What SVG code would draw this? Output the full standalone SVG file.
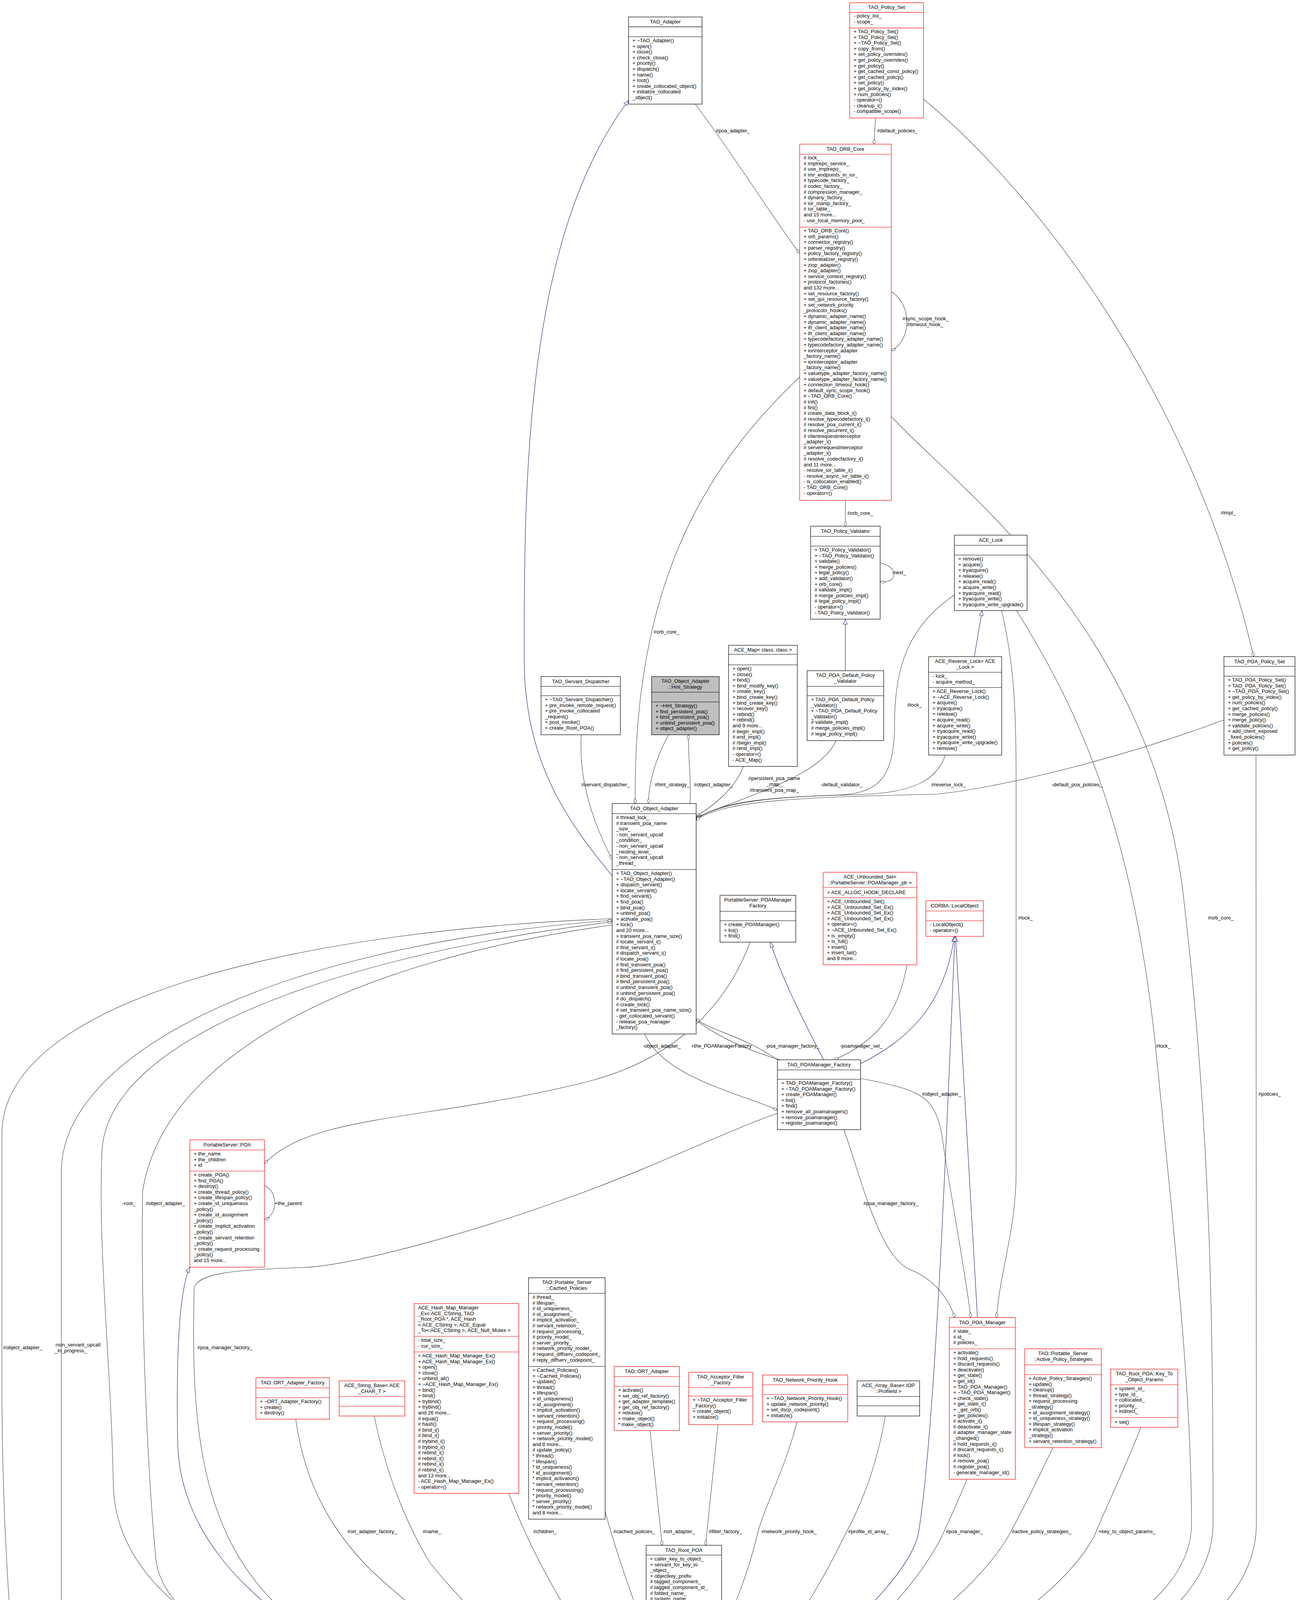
<svg xmlns="http://www.w3.org/2000/svg" width="3320" height="5179" viewBox="0 0 3320 5179">
<style>
text{font-family:"Liberation Sans",Arial,sans-serif;font-size:13px;fill:#000}
.c{text-anchor:middle}
.b{fill:#fff;stroke:#000;stroke-width:1.2}
.r{fill:#fff;stroke:#f00;stroke-width:1.2}
.g{fill:#bfbfbf;stroke:#000;stroke-width:1.2}
.sb{stroke:#000;stroke-width:1.2}
.sr{stroke:#f00;stroke-width:1.2}
.e{fill:none;stroke:#404040;stroke-width:1.1;marker-end:url(#dia)}
.n{fill:none;stroke:#191970;stroke-width:1.1;marker-end:url(#tri)}
</style>
<defs>
<marker id="dia" markerUnits="userSpaceOnUse" markerWidth="16" markerHeight="10" refX="14" refY="4" orient="auto"><path d="M1,4 L7.5,0.5 L14,4 L7.5,7.5 z" fill="#fff" stroke="#404040" stroke-width="1"/></marker>
<marker id="tri" markerUnits="userSpaceOnUse" markerWidth="16" markerHeight="12" refX="14" refY="6" orient="auto"><path d="M1,1 L14,6 L1,11 z" fill="#fff" stroke="#191970" stroke-width="1"/></marker>
</defs>
<rect width="3320" height="5179" fill="#fff"/>

<g id="connectors">
<path class="e" d="M1780,267 C1880,400 1980,560 2047,649"/>
<path class="e" d="M2241,303 L2237,369"/>
<path class="e" d="M2281,746 C2335,780 2335,870 2281,898"/>
<path class="e" d="M2364,254 C2650,490 3050,1000 3209,1681"/>
<path class="e" d="M2164,1281 L2164,1347"/>
<path class="e" d="M2253,1441 C2300,1450 2300,1495 2253,1489"/>
<path class="e" d="M1488,1881 C1480,2000 1520,2110 1567,2200"/>
<path class="e" d="M2047,965 C1800,1200 1620,1500 1626,2057"/>
<path class="e" d="M1711,1881 C1680,1940 1660,2000 1660,2057"/>
<path class="e" d="M1766,2057 C1770,2000 1762,1950 1762,1881"/>
<path class="e" d="M1903,1962 C1880,2020 1830,2060 1782,2090"/>
<path class="e" d="M2140,1896 C2100,1990 1900,2040 1782,2093"/>
<path class="e" d="M2443,1523 C2330,1600 2290,1700 2290,1850 C2290,1990 2250,2030 2150,2035 C2000,2040 1850,2050 1782,2096"/>
<path class="e" d="M2420,1933 C2400,1990 2350,2030 2200,2034 C2000,2040 1850,2045 1782,2098"/>
<path class="e" d="M3133,1843 C2900,1930 2600,2010 2400,2033 C2100,2040 1850,2045 1782,2100"/>
<path class="e" d="M1650,2647 C1700,2760 1900,2800 1990,2842"/>
<path class="e" d="M1920,2412 C1850,2600 1700,2720 1500,2770 C1100,2870 800,2850 677,2979"/>
<path class="e" d="M1990,2713 C1900,2650 1820,2640 1782,2608"/>
<path class="e" d="M2322,2470 C2300,2580 2260,2660 2135,2713"/>
<path class="e" d="M677,3035 C712,3050 712,3110 677,3122"/>
<path class="e" d="M1782,2612 C1900,2700 2050,2730 2200,2760 C2350,2790 2390,2800 2410,2900 C2440,3100 2470,3250 2485,3373"/>
<path class="e" d="M2160,2892 C2200,3000 2250,3220 2330,3250 C2400,3280 2430,3330 2444,3373"/>
<path class="e" d="M2564,1563 C2595,1700 2601,1800 2601,2000 L2601,3000 C2601,3150 2560,3250 2551,3373"/>
<path class="e" d="M2602,1563 C2750,1800 2900,2100 2960,2700 C3020,3300 3050,3600 3050,3900 C3050,4250 2200,4440 1847,4452"/>
<path class="e" d="M2281,1066 C2450,1250 2950,1600 3030,2300 C3100,2900 3105,3400 3105,3900 C3105,4300 2200,4455 1847,4462"/>
<path class="e" d="M3215,1933 L3216,3900 C3216,4350 2200,4470 1847,4470"/>
<path class="e" d="M2475,3787 C2450,3850 2430,3890 2410,3935 C2300,4150 2000,4380 1847,4410"/>
<path class="e" d="M2695,3706 C2650,3800 2610,3880 2580,3935 C2450,4150 2050,4390 1847,4424"/>
<path class="e" d="M2920,3654 C2880,3760 2830,3860 2800,3935 C2650,4200 2100,4420 1847,4442"/>
<path class="e" d="M2040,3640 C2010,3760 1955,3860 1938,3930 C1915,4030 1880,4110 1847,4185"/>
<path class="e" d="M2266,3625 C2240,3780 2190,3880 2160,3935 C2080,4100 1950,4300 1847,4357"/>
<path class="e" d="M1838,3647 L1806,3956"/>
<path class="e" d="M1664,3662 L1695,3956"/>
<path class="e" d="M1549,3870 C1580,3980 1620,4100 1654,4175"/>
<path class="e" d="M1302,3823 C1340,3920 1400,4050 1500,4200 C1560,4280 1620,4320 1654,4338"/>
<path class="e" d="M958,3625 C990,3780 1040,3900 1100,4000 C1300,4250 1550,4390 1654,4410"/>
<path class="e" d="M757,3633 C780,3800 850,3920 950,4020 C1250,4300 1550,4410 1654,4428"/>
<path class="e" d="M1654,4465 C1300,4440 300,4300 290,3800 C285,3500 250,3200 261,2950 C270,2650 900,2440 1567,2360"/>
<path class="e" d="M1567,2368 C900,2460 420,2700 365,3050 C360,3400 380,3800 400,4000 C450,4300 1300,4430 1654,4455"/>
<path class="e" d="M1567,2352 C800,2380 10,2550 5,2900 L5,3600 C10,4300 100,4800 131,5047"/>
<path class="e" d="M157,5051 L157,3000 C157,2700 700,2420 1567,2356"/>
<path class="e" d="M1990,2850 C1850,2900 1700,2975 1500,3050 C1200,3160 900,3240 774,3245 C600,3250 500,3260 497,3300 C490,3600 500,3900 700,4100 C1000,4350 1450,4360 1654,4345"/>
<path class="e" d="M1654,4517 L243,5073"/>
<path class="e" d="M242,5085 C272,5095 272,5125 242,5129"/>
<path class="n" d="M1567,2242 C1450,2100 1345,1950 1342,1700 C1340,1200 1350,600 1609,257"/>
<path class="n" d="M2164,1717 L2164,1585"/>
<path class="n" d="M2494,1681 L2514,1563"/>
<path class="n" d="M2108,2713 C2050,2600 2000,2500 1972,2412"/>
<path class="n" d="M2203,2723 C2350,2650 2420,2550 2443,2397"/>
<path class="n" d="M2502,3373 L2446,2397"/>
<path class="n" d="M1847,4405 C2100,4250 2320,4050 2350,3930 C2390,3700 2420,3000 2444,2397"/>
<path class="n" d="M1654,4459 C1000,4380 470,4100 455,3700 C450,3450 460,3300 486,3244"/>
<text x="1832" y="339">#poa_adapter_</text>
<text x="2245" y="339">#default_policies_</text>
<text x="2310" y="820">#sync_scope_hook_</text>
<text x="2322" y="835">#timeout_hook_</text>
<text x="3125" y="1317">#impl_</text>
<text x="2169" y="1318">#orb_core_</text>
<text x="2283" y="1470">-next_</text>
<text x="1673" y="1622">#orb_core_</text>
<text x="2322" y="1809">#lock_</text>
<text x="1488" y="2013">#servant_dispatcher_</text>
<text x="1676" y="2013">#hint_strategy_</text>
<text x="1776" y="2013">#object_adapter_</text>
<text class="c" x="1982" y="1997">#persistent_poa_name</text>
<text class="c" x="1982" y="2012">_map_</text>
<text class="c" x="1982" y="2027">#transient_poa_map_</text>
<text x="2101" y="2013">-default_validator_</text>
<text x="2384" y="2013">#reverse_lock_</text>
<text x="2692" y="2013">-default_poa_policies_</text>
<text x="2606" y="2354">#lock_</text>
<text x="3092" y="2354">#orb_core_</text>
<text x="1645" y="2682">-object_adapter_</text>
<text x="1769" y="2682">+the_POAManagerFactory</text>
<text x="1959" y="2682">-poa_manager_factory_</text>
<text x="2150" y="2682">-poamanager_set_</text>
<text x="2959" y="2682">#lock_</text>
<text x="2360" y="2805">#object_adapter_</text>
<text x="3221" y="2805">#policies_</text>
<text x="313" y="3085">-root_</text>
<text x="373" y="3085">#object_adapter_</text>
<text x="703" y="3085">+the_parent</text>
<text x="2210" y="3085">#poa_manager_factory_</text>
<text x="8" y="3454">#object_adapter_</text>
<text x="140" y="3447">-non_servant_upcall</text>
<text x="140" y="3462">_in_progress_</text>
<text x="505" y="3454">#poa_manager_factory_</text>
<text x="889" y="3925">#ort_adapter_factory_</text>
<text x="1082" y="3925">#name_</text>
<text x="1365" y="3925">#children_</text>
<text x="1570" y="3925">#cached_policies_</text>
<text x="1698" y="3925">#ort_adapter_</text>
<text x="1814" y="3925">#filter_factory_</text>
<text x="1949" y="3925">#network_priority_hook_</text>
<text x="2171" y="3925">#profile_id_array_</text>
<text x="2421" y="3925">#poa_manager_</text>
<text x="2590" y="3925">#active_policy_strategies_</text>
<text x="2812" y="3925">+key_to_object_params_</text>
<text x="393" y="5022">#poa_</text>
<text x="271" y="5114">#previous_</text>
</g>

<g id="TAO_Adapter">
<rect class="b" x="1609" y="43.5" width="188" height="223"/>
<line class="sb" x1="1609" y1="68.7" x2="1797" y2="68.7"/><line class="sb" x1="1609" y1="94" x2="1797" y2="94"/>
<text class="c" x="1703" y="60">TAO_Adapter</text>
<text x="1619" y="108"><tspan x="1619">+ ~TAO_Adapter()</tspan><tspan x="1619" dy="14.6">+ open()</tspan><tspan x="1619" dy="14.6">+ close()</tspan><tspan x="1619" dy="14.6">+ check_close()</tspan><tspan x="1619" dy="14.6">+ priority()</tspan><tspan x="1619" dy="14.6">+ dispatch()</tspan><tspan x="1619" dy="14.6">+ name()</tspan><tspan x="1619" dy="14.6">+ root()</tspan><tspan x="1619" dy="14.6">+ create_collocated_object()</tspan><tspan x="1619" dy="14.6">+ initialize_collocated</tspan><tspan x="1619" dy="14.6">_object()</tspan></text>
</g>

<g id="TAO_Policy_Set">
<rect class="r" x="2175" y="7" width="189" height="295"/>
<line class="sr" x1="2175" y1="31.6" x2="2364" y2="31.6"/><line class="sr" x1="2175" y1="71.6" x2="2364" y2="71.6"/>
<text class="c" x="2269.5" y="23">TAO_Policy_Set</text>
<text x="2185" y="45"><tspan x="2185">- policy_list_</tspan><tspan x="2185" dy="14.6">- scope_</tspan></text>
<text x="2185" y="85"><tspan x="2185">+ TAO_Policy_Set()</tspan><tspan x="2185" dy="14.6">+ TAO_Policy_Set()</tspan><tspan x="2185" dy="14.6">+ ~TAO_Policy_Set()</tspan><tspan x="2185" dy="14.6">+ copy_from()</tspan><tspan x="2185" dy="14.6">+ set_policy_overrides()</tspan><tspan x="2185" dy="14.6">+ get_policy_overrides()</tspan><tspan x="2185" dy="14.6">+ get_policy()</tspan><tspan x="2185" dy="14.6">+ get_cached_const_policy()</tspan><tspan x="2185" dy="14.6">+ get_cached_policy()</tspan><tspan x="2185" dy="14.6">+ set_policy()</tspan><tspan x="2185" dy="14.6">+ get_policy_by_index()</tspan><tspan x="2185" dy="14.6">+ num_policies()</tspan><tspan x="2185" dy="14.6">- operator=()</tspan><tspan x="2185" dy="14.6">- cleanup_i()</tspan><tspan x="2185" dy="14.6">- compatible_scope()</tspan></text>
</g>

<g id="TAO_ORB_Core">
<rect class="r" x="2047" y="369" width="234.5" height="912"/>
<line class="sr" x1="2047" y1="395" x2="2281.5" y2="395"/><line class="sr" x1="2047" y1="581.5" x2="2281.5" y2="581.5"/>
<text class="c" x="2164" y="386">TAO_ORB_Core</text>
<text x="2057" y="408"><tspan x="2057"># lock_</tspan><tspan x="2057" dy="14.6"># implrepo_service_</tspan><tspan x="2057" dy="14.6"># use_implrepo_</tspan><tspan x="2057" dy="14.6"># imr_endpoints_in_ior_</tspan><tspan x="2057" dy="14.6"># typecode_factory_</tspan><tspan x="2057" dy="14.6"># codec_factory_</tspan><tspan x="2057" dy="14.6"># compression_manager_</tspan><tspan x="2057" dy="14.6"># dynany_factory_</tspan><tspan x="2057" dy="14.6"># ior_manip_factory_</tspan><tspan x="2057" dy="14.6"># ior_table_</tspan><tspan x="2057" dy="14.6">and 15 more...</tspan><tspan x="2057" dy="14.6">- use_local_memory_pool_</tspan></text>
<text x="2057" y="595"><tspan x="2057">+ TAO_ORB_Core()</tspan><tspan x="2057" dy="14.6">+ orb_params()</tspan><tspan x="2057" dy="14.6">+ connector_registry()</tspan><tspan x="2057" dy="14.6">+ parser_registry()</tspan><tspan x="2057" dy="14.6">+ policy_factory_registry()</tspan><tspan x="2057" dy="14.6">+ orbinitializer_registry()</tspan><tspan x="2057" dy="14.6">+ ziop_adapter()</tspan><tspan x="2057" dy="14.6">+ ziop_adapter()</tspan><tspan x="2057" dy="14.6">+ service_context_registry()</tspan><tspan x="2057" dy="14.6">+ protocol_factories()</tspan><tspan x="2057" dy="14.6">and 132 more...</tspan><tspan x="2057" dy="14.6">+ set_resource_factory()</tspan><tspan x="2057" dy="14.6">+ set_gui_resource_factory()</tspan><tspan x="2057" dy="14.6">+ set_network_priority</tspan><tspan x="2057" dy="14.6">_protocols_hooks()</tspan><tspan x="2057" dy="14.6">+ dynamic_adapter_name()</tspan><tspan x="2057" dy="14.6">+ dynamic_adapter_name()</tspan><tspan x="2057" dy="14.6">+ ifr_client_adapter_name()</tspan><tspan x="2057" dy="14.6">+ ifr_client_adapter_name()</tspan><tspan x="2057" dy="14.6">+ typecodefactory_adapter_name()</tspan><tspan x="2057" dy="14.6">+ typecodefactory_adapter_name()</tspan><tspan x="2057" dy="14.6">+ iorinterceptor_adapter</tspan><tspan x="2057" dy="14.6">_factory_name()</tspan><tspan x="2057" dy="14.6">+ iorinterceptor_adapter</tspan><tspan x="2057" dy="14.6">_factory_name()</tspan><tspan x="2057" dy="14.6">+ valuetype_adapter_factory_name()</tspan><tspan x="2057" dy="14.6">+ valuetype_adapter_factory_name()</tspan><tspan x="2057" dy="14.6">+ connection_timeout_hook()</tspan><tspan x="2057" dy="14.6">+ default_sync_scope_hook()</tspan><tspan x="2057" dy="14.6"># ~TAO_ORB_Core()</tspan><tspan x="2057" dy="14.6"># init()</tspan><tspan x="2057" dy="14.6"># fini()</tspan><tspan x="2057" dy="14.6"># create_data_block_i()</tspan><tspan x="2057" dy="14.6"># resolve_typecodefactory_i()</tspan><tspan x="2057" dy="14.6"># resolve_poa_current_i()</tspan><tspan x="2057" dy="14.6"># resolve_picurrent_i()</tspan><tspan x="2057" dy="14.6"># clientrequestinterceptor</tspan><tspan x="2057" dy="14.6">_adapter_i()</tspan><tspan x="2057" dy="14.6"># serverrequestinterceptor</tspan><tspan x="2057" dy="14.6">_adapter_i()</tspan><tspan x="2057" dy="14.6"># resolve_codecfactory_i()</tspan><tspan x="2057" dy="14.6">and 11 more...</tspan><tspan x="2057" dy="14.6">- resolve_ior_table_i()</tspan><tspan x="2057" dy="14.6">- resolve_async_ior_table_i()</tspan><tspan x="2057" dy="14.6">- is_collocation_enabled()</tspan><tspan x="2057" dy="14.6">- TAO_ORB_Core()</tspan><tspan x="2057" dy="14.6">- operator=()</tspan></text>
</g>

<g id="TAO_Policy_Validator">
<rect class="b" x="2075" y="1347" width="178" height="238"/>
<line class="sb" x1="2075" y1="1373" x2="2253" y2="1373"/><line class="sb" x1="2075" y1="1398" x2="2253" y2="1398"/>
<text class="c" x="2164" y="1364">TAO_Policy_Validator</text>
<text x="2085" y="1412"><tspan x="2085">+ TAO_Policy_Validator()</tspan><tspan x="2085" dy="14.6">+ ~TAO_Policy_Validator()</tspan><tspan x="2085" dy="14.6">+ validate()</tspan><tspan x="2085" dy="14.6">+ merge_policies()</tspan><tspan x="2085" dy="14.6">+ legal_policy()</tspan><tspan x="2085" dy="14.6">+ add_validator()</tspan><tspan x="2085" dy="14.6">+ orb_core()</tspan><tspan x="2085" dy="14.6"># validate_impl()</tspan><tspan x="2085" dy="14.6"># merge_policies_impl()</tspan><tspan x="2085" dy="14.6"># legal_policy_impl()</tspan><tspan x="2085" dy="14.6">- operator=()</tspan><tspan x="2085" dy="14.6">- TAO_Policy_Validator()</tspan></text>
</g>

<g id="TAO_POA_Default_Policy_Validator">
<rect class="b" x="2066" y="1717" width="196" height="179"/>
<line class="sb" x1="2066" y1="1757" x2="2262" y2="1757"/><line class="sb" x1="2066" y1="1781" x2="2262" y2="1781"/>
<text class="c" x="2164" y="1733"><tspan x="2164">TAO_POA_Default_Policy</tspan><tspan x="2164" dy="14.6">_Validator</tspan></text>
<text x="2076" y="1795"><tspan x="2076">+ TAO_POA_Default_Policy</tspan><tspan x="2076" dy="14.6">_Validator()</tspan><tspan x="2076" dy="14.6">+ ~TAO_POA_Default_Policy</tspan><tspan x="2076" dy="14.6">_Validator()</tspan><tspan x="2076" dy="14.6"># validate_impl()</tspan><tspan x="2076" dy="14.6"># merge_policies_impl()</tspan><tspan x="2076" dy="14.6"># legal_policy_impl()</tspan></text>
</g>

<g id="ACE_Map">
<rect class="b" x="1865" y="1652" width="176" height="310"/>
<line class="sb" x1="1865" y1="1675" x2="2041" y2="1675"/><line class="sb" x1="1865" y1="1702" x2="2041" y2="1702"/>
<text class="c" x="1953" y="1668">ACE_Map&lt; class, class &gt;</text>
<text x="1875" y="1716"><tspan x="1875">+ open()</tspan><tspan x="1875" dy="14.6">+ close()</tspan><tspan x="1875" dy="14.6">+ bind()</tspan><tspan x="1875" dy="14.6">+ bind_modify_key()</tspan><tspan x="1875" dy="14.6">+ create_key()</tspan><tspan x="1875" dy="14.6">+ bind_create_key()</tspan><tspan x="1875" dy="14.6">+ bind_create_key()</tspan><tspan x="1875" dy="14.6">+ recover_key()</tspan><tspan x="1875" dy="14.6">+ rebind()</tspan><tspan x="1875" dy="14.6">+ rebind()</tspan><tspan x="1875" dy="14.6">and 9 more...</tspan><tspan x="1875" dy="14.6"># begin_impl()</tspan><tspan x="1875" dy="14.6"># end_impl()</tspan><tspan x="1875" dy="14.6"># rbegin_impl()</tspan><tspan x="1875" dy="14.6"># rend_impl()</tspan><tspan x="1875" dy="14.6">- operator=()</tspan><tspan x="1875" dy="14.6">- ACE_Map()</tspan></text>
</g>

<g id="Hint_Strategy">
<rect class="g" x="1668" y="1732" width="173" height="149"/>
<line class="sb" x1="1668" y1="1772" x2="1841" y2="1772"/><line class="sb" x1="1668" y1="1797" x2="1841" y2="1797"/>
<text class="c" x="1754.5" y="1748"><tspan x="1754.5">TAO_Object_Adapter</tspan><tspan x="1754.5" dy="14.6">::Hint_Strategy</tspan></text>
<text x="1678" y="1811"><tspan x="1678">+ ~Hint_Strategy()</tspan><tspan x="1678" dy="14.6">+ find_persistent_poa()</tspan><tspan x="1678" dy="14.6">+ bind_persistent_poa()</tspan><tspan x="1678" dy="14.6">+ unbind_persistent_poa()</tspan><tspan x="1678" dy="14.6">+ object_adapter()</tspan></text>
</g>

<g id="TAO_Servant_Dispatcher">
<rect class="b" x="1385" y="1732" width="203" height="149"/>
<line class="sb" x1="1385" y1="1757" x2="1588" y2="1757"/><line class="sb" x1="1385" y1="1781" x2="1588" y2="1781"/>
<text class="c" x="1486.5" y="1749">TAO_Servant_Dispatcher</text>
<text x="1395" y="1795"><tspan x="1395">+ ~TAO_Servant_Dispatcher()</tspan><tspan x="1395" dy="14.6">+ pre_invoke_remote_request()</tspan><tspan x="1395" dy="14.6">+ pre_invoke_collocated</tspan><tspan x="1395" dy="14.6">_request()</tspan><tspan x="1395" dy="14.6">+ post_invoke()</tspan><tspan x="1395" dy="14.6">+ create_Root_POA()</tspan></text>
</g>

<g id="TAO_Object_Adapter">
<rect class="b" x="1567" y="2057" width="215" height="590"/>
<line class="sb" x1="1567" y1="2083" x2="1782" y2="2083"/><line class="sb" x1="1567" y1="2226" x2="1782" y2="2226"/>
<text class="c" x="1674.5" y="2074">TAO_Object_Adapter</text>
<text x="1577" y="2097"><tspan x="1577"># thread_lock_</tspan><tspan x="1577" dy="14.6"># transient_poa_name</tspan><tspan x="1577" dy="14.6">_size_</tspan><tspan x="1577" dy="14.6">- non_servant_upcall</tspan><tspan x="1577" dy="14.6">_condition_</tspan><tspan x="1577" dy="14.6">- non_servant_upcall</tspan><tspan x="1577" dy="14.6">_nesting_level_</tspan><tspan x="1577" dy="14.6">- non_servant_upcall</tspan><tspan x="1577" dy="14.6">_thread_</tspan></text>
<text x="1577" y="2240"><tspan x="1577">+ TAO_Object_Adapter()</tspan><tspan x="1577" dy="14.6">+ ~TAO_Object_Adapter()</tspan><tspan x="1577" dy="14.6">+ dispatch_servant()</tspan><tspan x="1577" dy="14.6">+ locate_servant()</tspan><tspan x="1577" dy="14.6">+ find_servant()</tspan><tspan x="1577" dy="14.6">+ find_poa()</tspan><tspan x="1577" dy="14.6">+ bind_poa()</tspan><tspan x="1577" dy="14.6">+ unbind_poa()</tspan><tspan x="1577" dy="14.6">+ activate_poa()</tspan><tspan x="1577" dy="14.6">+ lock()</tspan><tspan x="1577" dy="14.6">and 20 more...</tspan><tspan x="1577" dy="14.6">+ transient_poa_name_size()</tspan><tspan x="1577" dy="14.6"># locate_servant_i()</tspan><tspan x="1577" dy="14.6"># find_servant_i()</tspan><tspan x="1577" dy="14.6"># dispatch_servant_i()</tspan><tspan x="1577" dy="14.6"># locate_poa()</tspan><tspan x="1577" dy="14.6"># find_transient_poa()</tspan><tspan x="1577" dy="14.6"># find_persistent_poa()</tspan><tspan x="1577" dy="14.6"># bind_transient_poa()</tspan><tspan x="1577" dy="14.6"># bind_persistent_poa()</tspan><tspan x="1577" dy="14.6"># unbind_transient_poa()</tspan><tspan x="1577" dy="14.6"># unbind_persistent_poa()</tspan><tspan x="1577" dy="14.6"># do_dispatch()</tspan><tspan x="1577" dy="14.6"># create_lock()</tspan><tspan x="1577" dy="14.6"># set_transient_poa_name_size()</tspan><tspan x="1577" dy="14.6">- get_collocated_servant()</tspan><tspan x="1577" dy="14.6">- release_poa_manager</tspan><tspan x="1577" dy="14.6">_factory()</tspan></text>
</g>

<g id="ACE_Lock">
<rect class="b" x="2443" y="1370" width="186" height="193"/>
<line class="sb" x1="2443" y1="1396" x2="2629" y2="1396"/><line class="sb" x1="2443" y1="1421" x2="2629" y2="1421"/>
<text class="c" x="2536" y="1387">ACE_Lock</text>
<text x="2453" y="1435"><tspan x="2453">+ remove()</tspan><tspan x="2453" dy="14.6">+ acquire()</tspan><tspan x="2453" dy="14.6">+ tryacquire()</tspan><tspan x="2453" dy="14.6">+ release()</tspan><tspan x="2453" dy="14.6">+ acquire_read()</tspan><tspan x="2453" dy="14.6">+ acquire_write()</tspan><tspan x="2453" dy="14.6">+ tryacquire_read()</tspan><tspan x="2453" dy="14.6">+ tryacquire_write()</tspan><tspan x="2453" dy="14.6">+ tryacquire_write_upgrade()</tspan></text>
</g>

<g id="ACE_Reverse_Lock">
<rect class="b" x="2377" y="1681" width="187" height="252"/>
<line class="sb" x1="2377" y1="1721" x2="2564" y2="1721"/><line class="sb" x1="2377" y1="1760" x2="2564" y2="1760"/>
<text class="c" x="2470.5" y="1697"><tspan x="2470.5">ACE_Reverse_Lock&lt; ACE</tspan><tspan x="2470.5" dy="14.6">_Lock &gt;</tspan></text>
<text x="2387" y="1735"><tspan x="2387">- lock_</tspan><tspan x="2387" dy="14.6">- acquire_method_</tspan></text>
<text x="2387" y="1774"><tspan x="2387">+ ACE_Reverse_Lock()</tspan><tspan x="2387" dy="14.6">+ ~ACE_Reverse_Lock()</tspan><tspan x="2387" dy="14.6">+ acquire()</tspan><tspan x="2387" dy="14.6">+ tryacquire()</tspan><tspan x="2387" dy="14.6">+ release()</tspan><tspan x="2387" dy="14.6">+ acquire_read()</tspan><tspan x="2387" dy="14.6">+ acquire_write()</tspan><tspan x="2387" dy="14.6">+ tryacquire_read()</tspan><tspan x="2387" dy="14.6">+ tryacquire_write()</tspan><tspan x="2387" dy="14.6">+ tryacquire_write_upgrade()</tspan><tspan x="2387" dy="14.6">+ remove()</tspan></text>
</g>

<g id="TAO_POA_Policy_Set">
<rect class="b" x="3133" y="1681" width="182" height="252"/>
<line class="sb" x1="3133" y1="1706" x2="3315" y2="1706"/><line class="sb" x1="3133" y1="1731" x2="3315" y2="1731"/>
<text class="c" x="3224" y="1698">TAO_POA_Policy_Set</text>
<text x="3143" y="1745"><tspan x="3143">+ TAO_POA_Policy_Set()</tspan><tspan x="3143" dy="14.6">+ TAO_POA_Policy_Set()</tspan><tspan x="3143" dy="14.6">+ ~TAO_POA_Policy_Set()</tspan><tspan x="3143" dy="14.6">+ get_policy_by_index()</tspan><tspan x="3143" dy="14.6">+ num_policies()</tspan><tspan x="3143" dy="14.6">+ get_cached_policy()</tspan><tspan x="3143" dy="14.6">+ merge_policies()</tspan><tspan x="3143" dy="14.6">+ merge_policy()</tspan><tspan x="3143" dy="14.6">+ validate_policies()</tspan><tspan x="3143" dy="14.6">+ add_client_exposed</tspan><tspan x="3143" dy="14.6">_fixed_policies()</tspan><tspan x="3143" dy="14.6">+ policies()</tspan><tspan x="3143" dy="14.6">+ get_policy()</tspan></text>
</g>

<g id="POAManagerFactory">
<rect class="b" x="1843" y="2292" width="194" height="120"/>
<line class="sb" x1="1843" y1="2333" x2="2037" y2="2333"/><line class="sb" x1="1843" y1="2357" x2="2037" y2="2357"/>
<text class="c" x="1940" y="2308"><tspan x="1940">PortableServer::POAManager</tspan><tspan x="1940" dy="14.6">Factory</tspan></text>
<text x="1853" y="2371"><tspan x="1853">+ create_POAManager()</tspan><tspan x="1853" dy="14.6">+ list()</tspan><tspan x="1853" dy="14.6">+ find()</tspan></text>
</g>

<g id="ACE_Unbounded_Set">
<rect class="r" x="2107" y="2233" width="240" height="237"/>
<line class="sr" x1="2107" y1="2272" x2="2347" y2="2272"/><line class="sr" x1="2107" y1="2298" x2="2347" y2="2298"/>
<text class="c" x="2227" y="2249"><tspan x="2227">ACE_Unbounded_Set&lt;</tspan><tspan x="2227" dy="14.6">::PortableServer::POAManager_ptr &gt;</tspan></text>
<text x="2117" y="2289">+ ACE_ALLOC_HOOK_DECLARE</text>
<text x="2117" y="2312"><tspan x="2117">+ ACE_Unbounded_Set()</tspan><tspan x="2117" dy="14.6">+ ACE_Unbounded_Set_Ex()</tspan><tspan x="2117" dy="14.6">+ ACE_Unbounded_Set_Ex()</tspan><tspan x="2117" dy="14.6">+ ACE_Unbounded_Set_Ex()</tspan><tspan x="2117" dy="14.6">+ operator=()</tspan><tspan x="2117" dy="14.6">+ ~ACE_Unbounded_Set_Ex()</tspan><tspan x="2117" dy="14.6">+ is_empty()</tspan><tspan x="2117" dy="14.6">+ is_full()</tspan><tspan x="2117" dy="14.6">+ insert()</tspan><tspan x="2117" dy="14.6">+ insert_tail()</tspan><tspan x="2117" dy="14.6">and 9 more...</tspan></text>
</g>

<g id="CORBA_LocalObject">
<rect class="r" x="2370" y="2306" width="147" height="91"/>
<line class="sr" x1="2370" y1="2332" x2="2517" y2="2332"/><line class="sr" x1="2370" y1="2357" x2="2517" y2="2357"/>
<text class="c" x="2443.5" y="2323">CORBA::LocalObject</text>
<text x="2380" y="2371"><tspan x="2380">- LocalObject()</tspan><tspan x="2380" dy="14.6">- operator=()</tspan></text>
</g>

<g id="TAO_POAManager_Factory">
<rect class="b" x="1990" y="2713" width="213" height="179"/>
<line class="sb" x1="1990" y1="2739" x2="2203" y2="2739"/><line class="sb" x1="1990" y1="2763" x2="2203" y2="2763"/>
<text class="c" x="2096.5" y="2730">TAO_POAManager_Factory</text>
<text x="2000" y="2777"><tspan x="2000">+ TAO_POAManager_Factory()</tspan><tspan x="2000" dy="14.6">+ ~TAO_POAManager_Factory()</tspan><tspan x="2000" dy="14.6">+ create_POAManager()</tspan><tspan x="2000" dy="14.6">+ list()</tspan><tspan x="2000" dy="14.6">+ find()</tspan><tspan x="2000" dy="14.6">+ remove_all_poamanagers()</tspan><tspan x="2000" dy="14.6">+ remove_poamanager()</tspan><tspan x="2000" dy="14.6">+ register_poamanager()</tspan></text>
</g>

<g id="PortableServer_POA">
<rect class="r" x="486" y="2918" width="191" height="326"/>
<line class="sr" x1="486" y1="2944" x2="677" y2="2944"/><line class="sr" x1="486" y1="2998" x2="677" y2="2998"/>
<text class="c" x="581.5" y="2935">PortableServer::POA</text>
<text x="496" y="2958"><tspan x="496">+ the_name</tspan><tspan x="496" dy="14.6">+ the_children</tspan><tspan x="496" dy="14.6">+ id</tspan></text>
<text x="496" y="3012"><tspan x="496">+ create_POA()</tspan><tspan x="496" dy="14.6">+ find_POA()</tspan><tspan x="496" dy="14.6">+ destroy()</tspan><tspan x="496" dy="14.6">+ create_thread_policy()</tspan><tspan x="496" dy="14.6">+ create_lifespan_policy()</tspan><tspan x="496" dy="14.6">+ create_id_uniqueness</tspan><tspan x="496" dy="14.6">_policy()</tspan><tspan x="496" dy="14.6">+ create_id_assignment</tspan><tspan x="496" dy="14.6">_policy()</tspan><tspan x="496" dy="14.6">+ create_implicit_activation</tspan><tspan x="496" dy="14.6">_policy()</tspan><tspan x="496" dy="14.6">+ create_servant_retention</tspan><tspan x="496" dy="14.6">_policy()</tspan><tspan x="496" dy="14.6">+ create_request_processing</tspan><tspan x="496" dy="14.6">_policy()</tspan><tspan x="496" dy="14.6">and 15 more...</tspan></text>
</g>

<g id="ORT_Adapter_Factory">
<rect class="r" x="655" y="3527" width="188" height="106"/>
<line class="sr" x1="655" y1="3553" x2="843" y2="3553"/><line class="sr" x1="655" y1="3578" x2="843" y2="3578"/>
<text class="c" x="749" y="3544">TAO::ORT_Adapter_Factory</text>
<text x="665" y="3592"><tspan x="665">+ ~ORT_Adapter_Factory()</tspan><tspan x="665" dy="14.6">+ create()</tspan><tspan x="665" dy="14.6">+ destroy()</tspan></text>
</g>

<g id="ACE_String_Base">
<rect class="r" x="868" y="3535" width="168" height="90"/>
<line class="sr" x1="868" y1="3575" x2="1036" y2="3575"/><line class="sr" x1="868" y1="3600" x2="1036" y2="3600"/>
<text class="c" x="952" y="3551"><tspan x="952">ACE_String_Base&lt; ACE</tspan><tspan x="952" dy="14.6">_CHAR_T &gt;</tspan></text>
</g>

<g id="ACE_Hash_Map_Manager_Ex">
<rect class="r" x="1060" y="3337" width="268" height="486"/>
<line class="sr" x1="1060" y1="3421" x2="1328" y2="3421"/><line class="sr" x1="1060" y1="3461" x2="1328" y2="3461"/>
<text x="1070" y="3352"><tspan x="1070">ACE_Hash_Map_Manager</tspan><tspan x="1070" dy="14.6">_Ex&lt; ACE_CString, TAO</tspan><tspan x="1070" dy="14.6">_Root_POA *, ACE_Hash</tspan><tspan x="1070" dy="14.6">&lt; ACE_CString &gt;, ACE_Equal</tspan><tspan x="1070" dy="14.6">_To&lt; ACE_CString &gt;, ACE_Null_Mutex &gt;</tspan></text>
<text x="1070" y="3435"><tspan x="1070">- total_size_</tspan><tspan x="1070" dy="14.6">- cur_size_</tspan></text>
<text x="1070" y="3475"><tspan x="1070">+ ACE_Hash_Map_Manager_Ex()</tspan><tspan x="1070" dy="14.6">+ ACE_Hash_Map_Manager_Ex()</tspan><tspan x="1070" dy="14.6">+ open()</tspan><tspan x="1070" dy="14.6">+ close()</tspan><tspan x="1070" dy="14.6">+ unbind_all()</tspan><tspan x="1070" dy="14.6">+ ~ACE_Hash_Map_Manager_Ex()</tspan><tspan x="1070" dy="14.6">+ bind()</tspan><tspan x="1070" dy="14.6">+ bind()</tspan><tspan x="1070" dy="14.6">+ trybind()</tspan><tspan x="1070" dy="14.6">+ trybind()</tspan><tspan x="1070" dy="14.6">and 26 more...</tspan><tspan x="1070" dy="14.6"># equal()</tspan><tspan x="1070" dy="14.6"># hash()</tspan><tspan x="1070" dy="14.6"># bind_i()</tspan><tspan x="1070" dy="14.6"># bind_i()</tspan><tspan x="1070" dy="14.6"># trybind_i()</tspan><tspan x="1070" dy="14.6"># trybind_i()</tspan><tspan x="1070" dy="14.6"># rebind_i()</tspan><tspan x="1070" dy="14.6"># rebind_i()</tspan><tspan x="1070" dy="14.6"># rebind_i()</tspan><tspan x="1070" dy="14.6"># rebind_i()</tspan><tspan x="1070" dy="14.6">and 13 more...</tspan><tspan x="1070" dy="14.6">- ACE_Hash_Map_Manager_Ex()</tspan><tspan x="1070" dy="14.6">- operator=()</tspan></text>
</g>

<g id="Cached_Policies">
<rect class="b" x="1353" y="3271" width="196" height="618"/>
<line class="sb" x1="1353" y1="3311" x2="1549" y2="3311"/><line class="sb" x1="1353" y1="3498" x2="1549" y2="3498"/>
<text class="c" x="1451" y="3287"><tspan x="1451">TAO::Portable_Server</tspan><tspan x="1451" dy="14.6">::Cached_Policies</tspan></text>
<text x="1363" y="3325"><tspan x="1363"># thread_</tspan><tspan x="1363" dy="14.6"># lifespan_</tspan><tspan x="1363" dy="14.6"># id_uniqueness_</tspan><tspan x="1363" dy="14.6"># id_assignment_</tspan><tspan x="1363" dy="14.6"># implicit_activation_</tspan><tspan x="1363" dy="14.6"># servant_retention_</tspan><tspan x="1363" dy="14.6"># request_processing_</tspan><tspan x="1363" dy="14.6"># priority_model_</tspan><tspan x="1363" dy="14.6"># server_priority_</tspan><tspan x="1363" dy="14.6"># network_priority_model_</tspan><tspan x="1363" dy="14.6"># request_diffserv_codepoint_</tspan><tspan x="1363" dy="14.6"># reply_diffserv_codepoint_</tspan></text>
<text x="1363" y="3512"><tspan x="1363">+ Cached_Policies()</tspan><tspan x="1363" dy="14.6">+ ~Cached_Policies()</tspan><tspan x="1363" dy="14.6">+ update()</tspan><tspan x="1363" dy="14.6">+ thread()</tspan><tspan x="1363" dy="14.6">+ lifespan()</tspan><tspan x="1363" dy="14.6">+ id_uniqueness()</tspan><tspan x="1363" dy="14.6">+ id_assignment()</tspan><tspan x="1363" dy="14.6">+ implicit_activation()</tspan><tspan x="1363" dy="14.6">+ servant_retention()</tspan><tspan x="1363" dy="14.6">+ request_processing()</tspan><tspan x="1363" dy="14.6">+ priority_model()</tspan><tspan x="1363" dy="14.6">+ server_priority()</tspan><tspan x="1363" dy="14.6">+ network_priority_model()</tspan><tspan x="1363" dy="14.6">and 8 more...</tspan><tspan x="1363" dy="14.6"># update_policy()</tspan><tspan x="1363" dy="14.6">* thread()</tspan><tspan x="1363" dy="14.6">* lifespan()</tspan><tspan x="1363" dy="14.6">* id_uniqueness()</tspan><tspan x="1363" dy="14.6">* id_assignment()</tspan><tspan x="1363" dy="14.6">* implicit_activation()</tspan><tspan x="1363" dy="14.6">* servant_retention()</tspan><tspan x="1363" dy="14.6">* request_processing()</tspan><tspan x="1363" dy="14.6">* priority_model()</tspan><tspan x="1363" dy="14.6">* server_priority()</tspan><tspan x="1363" dy="14.6">* network_priority_model()</tspan><tspan x="1363" dy="14.6">and 8 more...</tspan></text>
</g>

<g id="ORT_Adapter">
<rect class="r" x="1572" y="3498" width="167" height="164"/>
<line class="sr" x1="1572" y1="3524" x2="1739" y2="3524"/><line class="sr" x1="1572" y1="3549" x2="1739" y2="3549"/>
<text class="c" x="1655.5" y="3515">TAO::ORT_Adapter</text>
<text x="1582" y="3563"><tspan x="1582">+ activate()</tspan><tspan x="1582" dy="14.6">+ set_obj_ref_factory()</tspan><tspan x="1582" dy="14.6">+ get_adapter_template()</tspan><tspan x="1582" dy="14.6">+ get_obj_ref_factory()</tspan><tspan x="1582" dy="14.6">+ release()</tspan><tspan x="1582" dy="14.6">+ make_object()</tspan><tspan x="1582" dy="14.6">* make_object()</tspan></text>
</g>

<g id="Acceptor_Filter_Factory">
<rect class="r" x="1763" y="3513" width="164" height="134"/>
<line class="sr" x1="1763" y1="3552" x2="1927" y2="3552"/><line class="sr" x1="1763" y1="3574" x2="1927" y2="3574"/>
<text class="c" x="1845" y="3529"><tspan x="1845">TAO_Acceptor_Filter</tspan><tspan x="1845" dy="14.6">_Factory</tspan></text>
<text x="1773" y="3588"><tspan x="1773">+ ~TAO_Acceptor_Filter</tspan><tspan x="1773" dy="14.6">_Factory()</tspan><tspan x="1773" dy="14.6">+ create_object()</tspan><tspan x="1773" dy="14.6">+ initialize()</tspan></text>
</g>

<g id="Network_Priority_Hook">
<rect class="r" x="1952" y="3520" width="218" height="120"/>
<line class="sr" x1="1952" y1="3545" x2="2170" y2="3545"/><line class="sr" x1="1952" y1="3570" x2="2170" y2="3570"/>
<text class="c" x="2061" y="3537">TAO_Network_Priority_Hook</text>
<text x="1962" y="3584"><tspan x="1962">+ ~TAO_Network_Priority_Hook()</tspan><tspan x="1962" dy="14.6">+ update_network_priority()</tspan><tspan x="1962" dy="14.6">+ set_dscp_codepoint()</tspan><tspan x="1962" dy="14.6">+ initialize()</tspan></text>
</g>

<g id="ACE_Array_Base">
<rect class="b" x="2194" y="3535" width="160" height="90"/>
<line class="sb" x1="2194" y1="3575" x2="2354" y2="3575"/><line class="sb" x1="2194" y1="3599" x2="2354" y2="3599"/>
<text class="c" x="2274" y="3551"><tspan x="2274">ACE_Array_Base&lt; IOP</tspan><tspan x="2274" dy="14.6">::ProfileId &gt;</tspan></text>
</g>

<g id="TAO_POA_Manager">
<rect class="r" x="2430" y="3373" width="169" height="414"/>
<line class="sr" x1="2430" y1="3398" x2="2599" y2="3398"/><line class="sr" x1="2430" y1="3453" x2="2599" y2="3453"/>
<text class="c" x="2514.5" y="3390">TAO_POA_Manager</text>
<text x="2440" y="3412"><tspan x="2440"># state_</tspan><tspan x="2440" dy="14.6"># id_</tspan><tspan x="2440" dy="14.6"># policies_</tspan></text>
<text x="2440" y="3467"><tspan x="2440">+ activate()</tspan><tspan x="2440" dy="14.6">+ hold_requests()</tspan><tspan x="2440" dy="14.6">+ discard_requests()</tspan><tspan x="2440" dy="14.6">+ deactivate()</tspan><tspan x="2440" dy="14.6">+ get_state()</tspan><tspan x="2440" dy="14.6">+ get_id()</tspan><tspan x="2440" dy="14.6">+ TAO_POA_Manager()</tspan><tspan x="2440" dy="14.6">+ ~TAO_POA_Manager()</tspan><tspan x="2440" dy="14.6">+ check_state()</tspan><tspan x="2440" dy="14.6">+ get_state_i()</tspan><tspan x="2440" dy="14.6">+ _get_orb()</tspan><tspan x="2440" dy="14.6">+ get_policies()</tspan><tspan x="2440" dy="14.6"># activate_i()</tspan><tspan x="2440" dy="14.6"># deactivate_i()</tspan><tspan x="2440" dy="14.6"># adapter_manager_state</tspan><tspan x="2440" dy="14.6">_changed()</tspan><tspan x="2440" dy="14.6"># hold_requests_i()</tspan><tspan x="2440" dy="14.6"># discard_requests_i()</tspan><tspan x="2440" dy="14.6"># lock()</tspan><tspan x="2440" dy="14.6"># remove_poa()</tspan><tspan x="2440" dy="14.6"># register_poa()</tspan><tspan x="2440" dy="14.6">- generate_manager_id()</tspan></text>
</g>

<g id="Active_Policy_Strategies">
<rect class="r" x="2623" y="3453" width="196" height="253"/>
<line class="sr" x1="2623" y1="3494" x2="2819" y2="3494"/><line class="sr" x1="2623" y1="3519" x2="2819" y2="3519"/>
<text class="c" x="2721" y="3469"><tspan x="2721">TAO::Portable_Server</tspan><tspan x="2721" dy="14.6">::Active_Policy_Strategies</tspan></text>
<text x="2633" y="3533"><tspan x="2633">+ Active_Policy_Strategies()</tspan><tspan x="2633" dy="14.6">+ update()</tspan><tspan x="2633" dy="14.6">+ cleanup()</tspan><tspan x="2633" dy="14.6">+ thread_strategy()</tspan><tspan x="2633" dy="14.6">+ request_processing</tspan><tspan x="2633" dy="14.6">_strategy()</tspan><tspan x="2633" dy="14.6">+ id_assignment_strategy()</tspan><tspan x="2633" dy="14.6">+ id_uniqueness_strategy()</tspan><tspan x="2633" dy="14.6">+ lifespan_strategy()</tspan><tspan x="2633" dy="14.6">+ implicit_activation</tspan><tspan x="2633" dy="14.6">_strategy()</tspan><tspan x="2633" dy="14.6">+ servant_retention_strategy()</tspan></text>
</g>

<g id="Key_To_Object_Params">
<rect class="r" x="2843" y="3505" width="172" height="149"/>
<line class="sr" x1="2843" y1="3545" x2="3015" y2="3545"/><line class="sr" x1="2843" y1="3629" x2="3015" y2="3629"/>
<text class="c" x="2929" y="3521"><tspan x="2929">TAO_Root_POA::Key_To</tspan><tspan x="2929" dy="14.6">_Object_Params</tspan></text>
<text x="2853" y="3559"><tspan x="2853">+ system_id_</tspan><tspan x="2853" dy="14.6">+ type_id_</tspan><tspan x="2853" dy="14.6">+ collocated_</tspan><tspan x="2853" dy="14.6">+ priority_</tspan><tspan x="2853" dy="14.6">+ indirect_</tspan></text>
<text x="2853" y="3645">+ set()</text>
</g>

<g id="TAO_Root_POA">
<rect class="b" x="1654" y="3956" width="193" height="1029"/>
<line class="sb" x1="1654" y1="3981" x2="1847" y2="3981"/><line class="sb" x1="1654" y1="4284.5" x2="1847" y2="4284.5"/>
<text class="c" x="1750.5" y="3973">TAO_Root_POA</text>
<text x="1664" y="3995"><tspan x="1664">+ caller_key_to_object_</tspan><tspan x="1664" dy="14.6">+ servant_for_key_to</tspan><tspan x="1664" dy="14.6">_object_</tspan><tspan x="1664" dy="14.6">+ objectkey_prefix</tspan><tspan x="1664" dy="14.6"># tagged_component_</tspan><tspan x="1664" dy="14.6"># tagged_component_id_</tspan><tspan x="1664" dy="14.6"># folded_name_</tspan><tspan x="1664" dy="14.6"># system_name_</tspan><tspan x="1664" dy="14.6"># id_</tspan><tspan x="1664" dy="14.6"># adapter_state_</tspan><tspan x="1664" dy="14.6"># adapter_activator_</tspan><tspan x="1664" dy="14.6"># cleanup_in_progress_</tspan><tspan x="1664" dy="14.6"># outstanding_requests_</tspan><tspan x="1664" dy="14.6"># outstanding_requests</tspan><tspan x="1664" dy="14.6">_condition_</tspan><tspan x="1664" dy="14.6"># wait_for_completion</tspan><tspan x="1664" dy="14.6">_pending_</tspan><tspan x="1664" dy="14.6"># waiting_destruction_</tspan><tspan x="1664" dy="14.6"># servant_deactivation</tspan><tspan x="1664" dy="14.6">_condition_</tspan></text>
<text x="1664" y="4298"><tspan x="1664">+ get_active_object_map()</tspan><tspan x="1664" dy="14.6">+ create_POA()</tspan><tspan x="1664" dy="14.6">+ find_POA()</tspan><tspan x="1664" dy="14.6">+ destroy()</tspan><tspan x="1664" dy="14.6">+ create_thread_policy()</tspan><tspan x="1664" dy="14.6">+ create_lifespan_policy()</tspan><tspan x="1664" dy="14.6">+ create_id_uniqueness</tspan><tspan x="1664" dy="14.6">_policy()</tspan><tspan x="1664" dy="14.6">+ create_id_assignment</tspan><tspan x="1664" dy="14.6">_policy()</tspan><tspan x="1664" dy="14.6">+ create_implicit_activation</tspan><tspan x="1664" dy="14.6">_policy()</tspan><tspan x="1664" dy="14.6">+ create_servant_retention</tspan><tspan x="1664" dy="14.6">_policy()</tspan><tspan x="1664" dy="14.6">and 86 more...</tspan><tspan x="1664" dy="14.6">+ name_separator()</tspan><tspan x="1664" dy="14.6">+ name_separator_length()</tspan><tspan x="1664" dy="14.6">+ check_for_valid_wait</tspan><tspan x="1664" dy="14.6">_for_completions()</tspan><tspan x="1664" dy="14.6">+ parse_ir_object_key()</tspan><tspan x="1664" dy="14.6">+ ort_adapter_factory_name()</tspan><tspan x="1664" dy="14.6">+ ort_adapter_factory_name()</tspan><tspan x="1664" dy="14.6">+ imr_client_adapter_name()</tspan><tspan x="1664" dy="14.6">+ imr_client_adapter_name()</tspan><tspan x="1664" dy="14.6"># enter()</tspan><tspan x="1664" dy="14.6"># exit()</tspan><tspan x="1664" dy="14.6"># new_POA()</tspan><tspan x="1664" dy="14.6"># create_POA_i()</tspan><tspan x="1664" dy="14.6"># create_POA_i()</tspan><tspan x="1664" dy="14.6"># find_POA_i()</tspan><tspan x="1664" dy="14.6"># destroy_i()</tspan><tspan x="1664" dy="14.6"># complete_destruction_i()</tspan><tspan x="1664" dy="14.6"># the_children_i()</tspan><tspan x="1664" dy="14.6"># adapter_name_i()</tspan><tspan x="1664" dy="14.6">and 35 more...</tspan><tspan x="1664" dy="14.6"># parse_key()</tspan><tspan x="1664" dy="14.6"># persistent_key_char()</tspan><tspan x="1664" dy="14.6"># transient_key_char()</tspan><tspan x="1664" dy="14.6"># persistent_key_type</tspan><tspan x="1664" dy="14.6">_length()</tspan><tspan x="1664" dy="14.6"># system_id_key_char()</tspan><tspan x="1664" dy="14.6"># user_id_key_char()</tspan><tspan x="1664" dy="14.6"># system_id_key_type</tspan><tspan x="1664" dy="14.6">_length()</tspan><tspan x="1664" dy="14.6"># root_key_char()</tspan><tspan x="1664" dy="14.6"># non_root_key_char()</tspan><tspan x="1664" dy="14.6"># root_key_type_length()</tspan></text>
</g>

<g id="Non_Servant_Upcall">
<rect class="b" x="71" y="5051" width="171" height="121"/>
<line class="sb" x1="71" y1="5090" x2="242" y2="5090"/><line class="sb" x1="71" y1="5117" x2="242" y2="5117"/>
<text class="c" x="156.5" y="5067"><tspan x="156.5">TAO::Portable_Server</tspan><tspan x="156.5" dy="14.6">::Non_Servant_Upcall</tspan></text>
<text x="81" y="5131"><tspan x="81">+ Non_Servant_Upcall()</tspan><tspan x="81" dy="14.6">+ ~Non_Servant_Upcall()</tspan><tspan x="81" dy="14.6">+ poa()</tspan></text>
</g>
</svg>
